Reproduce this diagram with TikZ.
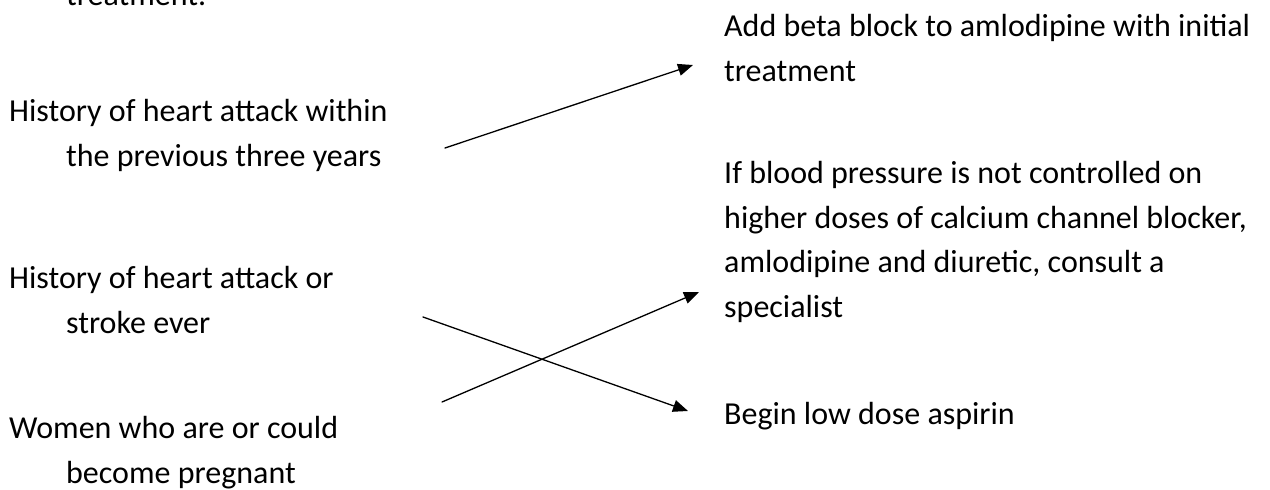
\documentclass[tikz,border=0pt]{standalone}
\usepackage{fontspec}
\setmainfont{Carlito}
\usetikzlibrary{arrows.meta}
\tikzset{
  item/.style={anchor=base west, inner sep=0pt, align=left},
  link/.style={-{Triangle[length=15pt,width=12pt]}, line width=1.3pt},
}
\newcommand{\ind}{\hspace*{57pt}}
\begin{document}
\begin{tikzpicture}[x=1pt, y=-1pt, font=\fontsize{32}{44.5}\selectfont, line cap=round]
\useasboundingbox (0,0) rectangle (1270,490);
% left column (anchored at the last line)
\node[item] (prev) at (9,5) {\ind treatment.};
\node[item] (attack) at (9,166) {History of heart attack within\\\ind the previous three years};
\node[item] (stroke) at (9,333) {History of heart attack or\\\ind stroke ever};
\node[item] (women) at (9,483) {Women who are or could\\\ind become pregnant};
% right column
\node[item] (beta) at (724,81) {Add beta block to amlodipine with initial\\treatment};
\node[item] (spec) at (724,317) {If blood pressure is not controlled on\\higher doses of calcium channel blocker,\\amlodipine and diuretic, consult a\\specialist};
\node[item] (aspirin) at (724,424) {Begin low dose aspirin};
% arrow ends
\coordinate (attackout) at (445,148);
\coordinate (betain) at (693,65);
\coordinate (strokeout) at (423,317);
\coordinate (aspirinin) at (688,411);
\coordinate (womenout) at (442,402);
\coordinate (specin) at (699,292);
\draw[link] (attackout) -- (betain);
\draw[link] (strokeout) -- (aspirinin);
\draw[link] (womenout) -- (specin);
\end{tikzpicture}
\end{document}
